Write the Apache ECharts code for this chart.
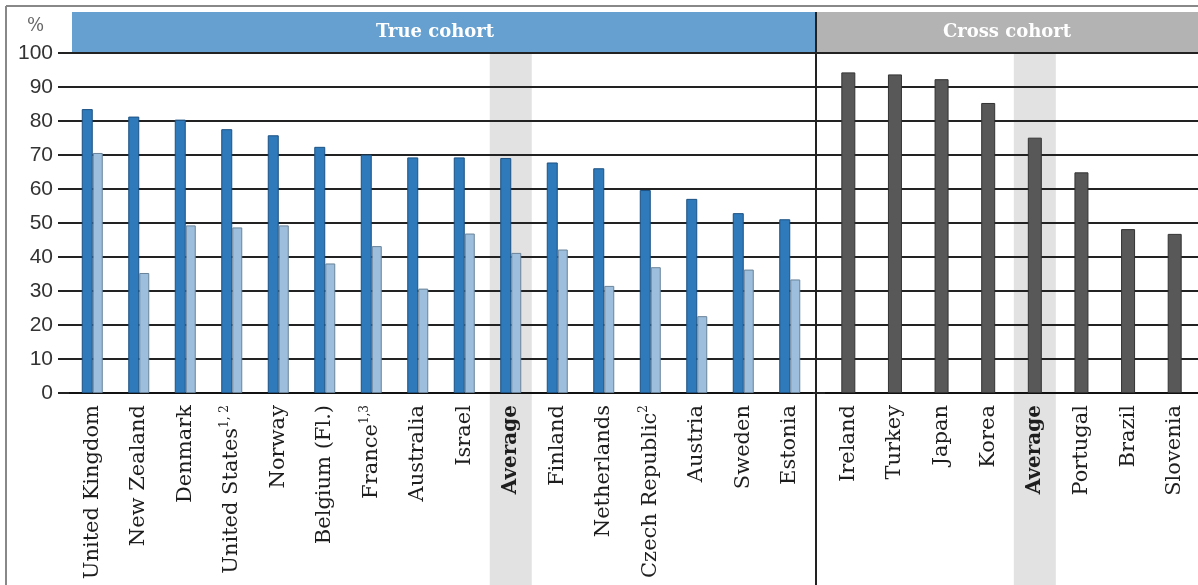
<!DOCTYPE html>
<html>
<head>
<meta charset="utf-8">
<script src="https://cdn.jsdelivr.net/npm/echarts@6/dist/echarts.min.js"></script>
<style>
  html, body { margin: 0; padding: 0; background: #fff; }
  #chart { width: 1198px; height: 585px; }
</style>
</head>
<body>
<div id="chart"></div>
<script>
// true cohort panel
const trueCountries = ['United Kingdom', 'New Zealand', 'Denmark', 'United States', 'Norway', 'Belgium (Fl.)',
  'France', 'Australia', 'Israel', 'Average', 'Finland', 'Netherlands', 'Czech Republic', 'Austria', 'Sweden', 'Estonia'];
const trueNotes = ['', '', '', '1, 2', '', '', '1,3', '', '', '', '', '', '2', '', '', ''];
const trueFirst = [83.5, 81.3, 80.4, 77.6, 75.8, 72.4, 70.1, 69.3, 69.3, 69.1, 67.8, 66.1, 59.7, 57.1, 52.9, 51.1];
const trueSecond = [70.6, 35.3, 49.3, 48.7, 49.3, 38.1, 43.2, 30.7, 46.9, 41.2, 42.2, 31.5, 37.0, 22.6, 36.3, 33.4];

// cross cohort panel
const crossCountries = ['Ireland', 'Turkey', 'Japan', 'Korea', 'Average', 'Portugal', 'Brazil', 'Slovenia'];
const crossValues = [94.3, 93.7, 92.3, 85.3, 75.1, 64.9, 48.2, 46.8];

const yMin = 0, yMax = 100, yStep = 10;

const serif = 'DejaVu Serif';
const gridColor = '#222';

function labelFormatter(notes) {
  return function (v, i) {
    if (v === 'Average') return '{b|' + v + '}';
    if (notes && notes[i]) return '{n|' + v + '}{s|' + notes[i] + '}';
    return '{n|' + v + '}';
  };
}

const labelStyle = {
  rotate: 90,
  interval: 0,
  margin: 12,
  color: '#1e1e1e',
  fontFamily: serif,
  fontSize: 21,
  rich: {
    n: { fontFamily: serif, fontSize: 21, color: '#1e1e1e', lineHeight: 25 },
    s: { fontFamily: serif, fontSize: 12, color: '#1e1e1e', lineHeight: 12, verticalAlign: 'top' },
    b: { fontFamily: serif, fontSize: 20, color: '#1e1e1e', fontWeight: 'bold', lineHeight: 25 }
  }
};

const chart = echarts.init(document.getElementById('chart'));

chart.setOption({
  animation: false,
  grid: [
    { left: 69, top: 53, width: 744, bottom: 192 },
    { left: 825, top: 53, width: 373, bottom: 192 }
  ],
  xAxis: [
    {
      type: 'category', gridIndex: 0, data: trueCountries,
      axisLine: { lineStyle: { color: '#111', width: 2 } },
      axisTick: { show: false },
      axisLabel: Object.assign({ formatter: labelFormatter(trueNotes) }, labelStyle)
    },
    {
      type: 'category', gridIndex: 1, data: crossCountries,
      axisLine: { lineStyle: { color: '#111', width: 2 } },
      axisTick: { show: false },
      axisLabel: Object.assign({ formatter: labelFormatter(null) }, labelStyle)
    }
  ],
  yAxis: [
    {
      type: 'value', gridIndex: 0, min: yMin, max: yMax, interval: yStep,
      axisLine: { show: false },
      axisTick: { show: true, length: 11, lineStyle: { color: gridColor, width: 2 } },
      splitLine: { lineStyle: { color: gridColor, width: 2 } },
      axisLabel: { margin: 16, fontSize: 21, color: '#333', fontFamily: 'Liberation Sans' }
    },
    {
      type: 'value', gridIndex: 1, min: yMin, max: yMax, interval: yStep,
      axisLine: { show: false },
      axisTick: { show: true, length: 12, lineStyle: { color: gridColor, width: 2 } },
      splitLine: { lineStyle: { color: gridColor, width: 2 } },
      axisLabel: { show: false }
    }
  ],
  series: [
    {
      name: 'True cohort 1', type: 'bar', xAxisIndex: 0, yAxisIndex: 0,
      data: trueFirst, barWidth: 11, barGap: '0%',
      itemStyle: { color: '#2f7aba', borderColor: '#1d5283', borderWidth: 1 }
    },
    {
      name: 'True cohort 2', type: 'bar', xAxisIndex: 0, yAxisIndex: 0,
      data: trueSecond, barWidth: 10,
      itemStyle: { color: '#9dbedc', borderColor: '#6a8399', borderWidth: 1 }
    },
    {
      name: 'Cross cohort', type: 'bar', xAxisIndex: 1, yAxisIndex: 1,
      data: crossValues, barWidth: 14,
      itemStyle: { color: '#585858', borderColor: '#333', borderWidth: 1 }
    }
  ]
});

// decorations placed from the axes
const yTop = chart.convertToPixel({ yAxisIndex: 0 }, yMax);
const avgTrue = chart.convertToPixel({ xAxisIndex: 0 }, 'Average');
const avgCross = chart.convertToPixel({ xAxisIndex: 1 }, 'Average');
const divX = 816;
const headTop = 12;

chart.setOption({
  graphic: [
    { type: 'rect', z: -1, shape: { x: avgTrue - 21, y: yTop, width: 42, height: 585 - yTop }, style: { fill: '#e2e2e2' } },
    { type: 'rect', z: -1, shape: { x: avgCross - 21, y: yTop, width: 42, height: 585 - yTop }, style: { fill: '#e2e2e2' } },
    { type: 'rect', z: 5, shape: { x: 72, y: headTop, width: divX - 72, height: yTop - headTop - 1 }, style: { fill: '#66a0d0' } },
    { type: 'rect', z: 5, shape: { x: divX, y: headTop, width: 1198 - divX, height: yTop - headTop - 1 }, style: { fill: '#b3b3b3' } },
    { type: 'text', z: 6, x: 435, y: (headTop + yTop) / 2, style: { text: 'True cohort', fill: '#fff', font: 'bold 18px "DejaVu Serif"', align: 'center', verticalAlign: 'middle' } },
    { type: 'text', z: 6, x: (divX + 1198) / 2, y: (headTop + yTop) / 2, style: { text: 'Cross cohort', fill: '#fff', font: 'bold 18px "DejaVu Serif"', align: 'center', verticalAlign: 'middle' } },
    { type: 'line', z: 7, shape: { x1: divX, y1: headTop, x2: divX, y2: 585 }, style: { stroke: '#222', lineWidth: 2 } },
    { type: 'line', z: 7, shape: { x1: 6, y1: 6, x2: 1198, y2: 6 }, style: { stroke: '#888', lineWidth: 2 } },
    { type: 'line', z: 7, shape: { x1: 6, y1: 6, x2: 6, y2: 585 }, style: { stroke: '#888', lineWidth: 2 } },
    { type: 'text', z: 6, x: 27, y: 26, style: { text: '%', fill: '#666', font: '18px "DejaVu Serif"', verticalAlign: 'middle' } }
  ]
});
</script>
</body>
</html>
